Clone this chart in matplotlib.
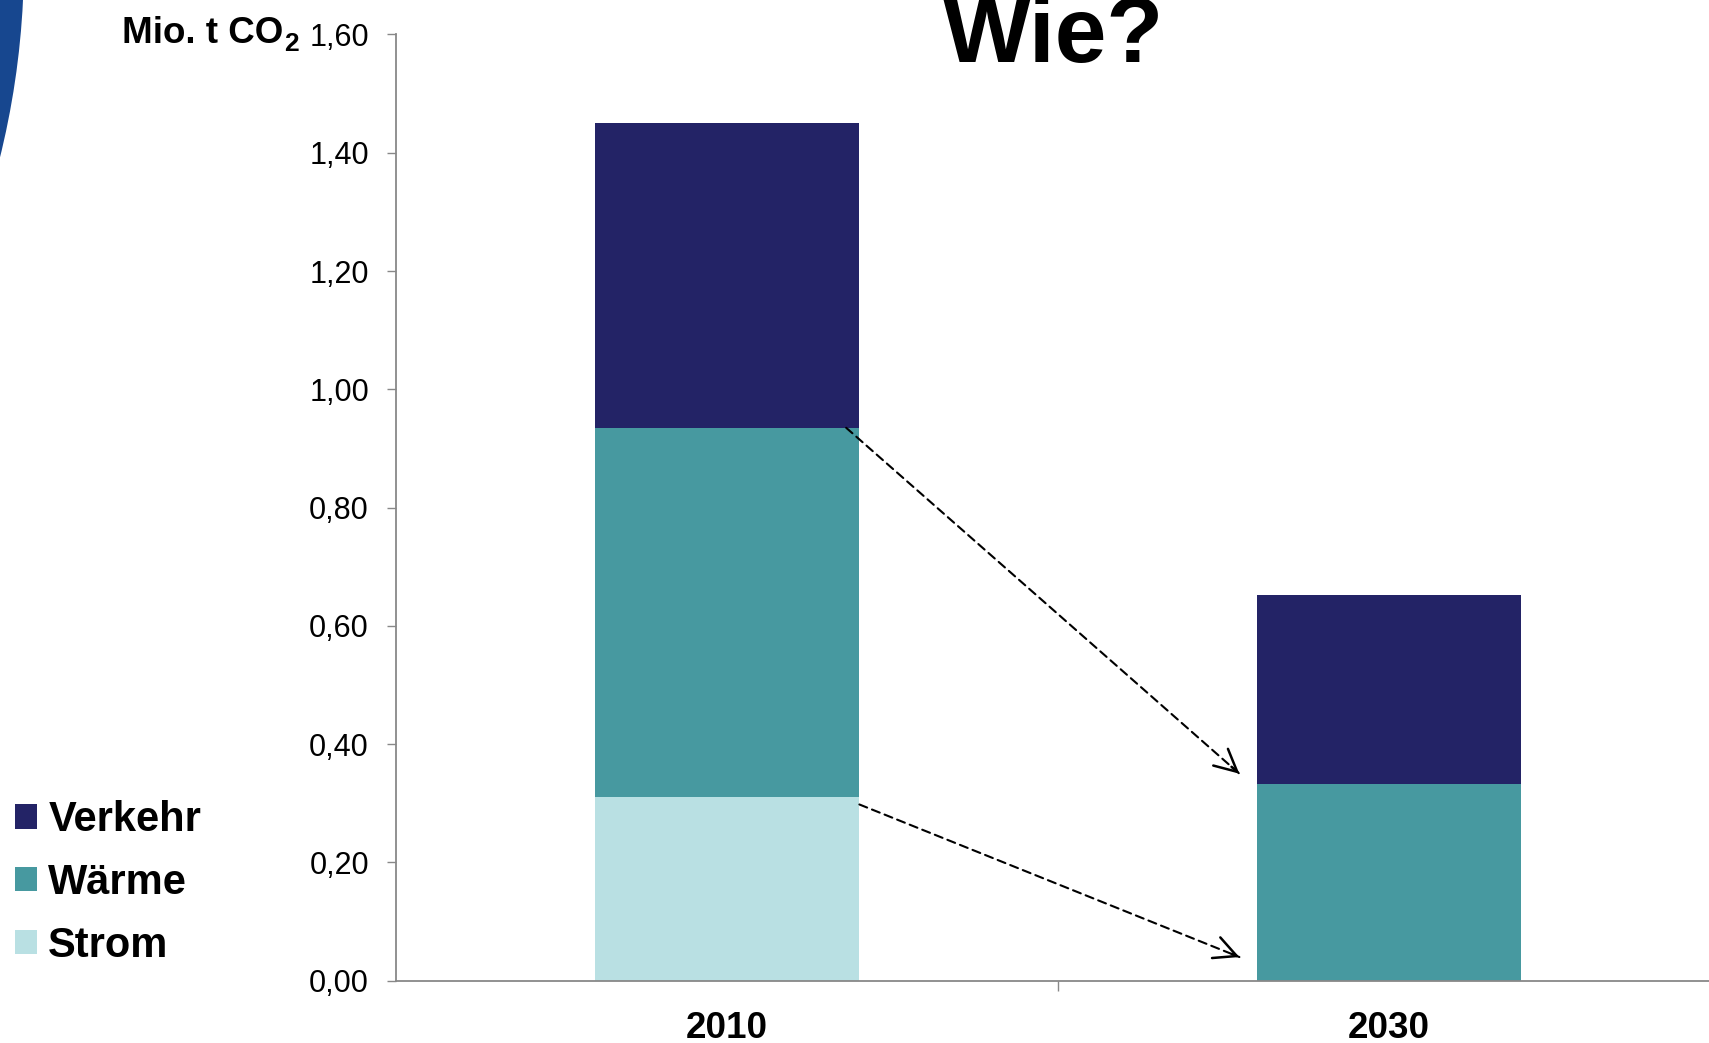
import numpy as np
from matplotlib import pyplot as plt
from matplotlib.patches import Circle

plt.rcParams['font.family'] = ['Liberation Sans', 'DejaVu Sans']

years = ["2010", "2030"]
strom = [0.31, 0.00]
waerme = [0.625, 0.333]
verkehr = [0.515, 0.32]

COLORS = {
    "Verkehr": "#232366",
    "Wärme": "#4799a0",
    "Strom": "#b9e0e3",
}

W, H = 1709, 1043
fig = plt.figure(figsize=(W / 100, H / 100), dpi=100)

# blue circle piece in the upper left corner
fig.patches.append(Circle((-800, H + 40), 824, transform=None, facecolor="#17478f",
                          edgecolor="none", zorder=0))

ax = fig.add_axes([396 / W, 62.3 / H, 1324 / W, 946.2 / H])

x = np.arange(len(years))
strom = np.array(strom)
waerme = np.array(waerme)
verkehr = np.array(verkehr)

b_strom = ax.bar(x, strom, 0.4, color=COLORS["Strom"], label="Strom")
b_waerme = ax.bar(x, waerme, 0.4, bottom=strom, color=COLORS["Wärme"], label="Wärme")
b_verkehr = ax.bar(x, verkehr, 0.4, bottom=strom + waerme, color=COLORS["Verkehr"], label="Verkehr")

ax.set_xlim(-0.5, 1.5)
ax.set_ylim(0, 1.6)
yt = np.arange(0, 1.61, 0.2)
ax.set_yticks(yt)
ax.set_yticklabels([("%.2f" % v).replace(".", ",") for v in yt])

ax.set_xticks([0.5])
ax.set_xticklabels([""])
ax.set_xticks(x, minor=True)
ax.set_xticklabels(years, minor=True, fontsize=26.5, fontweight="bold")
ax.tick_params(axis="x", which="major", direction="out", length=7, width=1, color="#888888")
ax.tick_params(axis="x", which="minor", length=0, pad=22)
ax.tick_params(axis="y", direction="out", length=6.5, width=1, color="#888888",
               labelsize=22, pad=13)

for s in ["top", "right"]:
    ax.spines[s].set_visible(False)
for s in ["left", "bottom"]:
    ax.spines[s].set_color("#888888")
    ax.spines[s].set_linewidth(1.3)


def dashed_arrow(start, end):
    # dashed shaft plus a solid open head at the end
    ax.annotate("", xy=end, xytext=start,
                arrowprops=dict(arrowstyle="-", linestyle=(0, (4, 2.5)), lw=1.5,
                                color="black", shrinkA=0, shrinkB=0))
    near = (start[0] + 0.98 * (end[0] - start[0]), start[1] + 0.98 * (end[1] - start[1]))
    ax.annotate("", xy=end, xytext=near,
                arrowprops=dict(arrowstyle="->", lw=1.8, color="black",
                                mutation_scale=40, shrinkA=0, shrinkB=0))


# dashed arrows from 2010 to 2030
dashed_arrow((x[0] + 0.18, strom[0] + waerme[0]), (x[1] - 0.226, strom[1] + waerme[1] + 0.017))
dashed_arrow((x[0] + 0.2, strom[0] - 0.012), (x[1] - 0.226, strom[1] + 0.04))

# unit label
fig.text(283 / W, 1 - 43 / H, "Mio. t CO", fontsize=26.5, fontweight="bold",
         ha="right", va="baseline")
fig.text(284 / W, 1 - 51 / H, "2", fontsize=19, fontweight="bold",
         ha="left", va="baseline")

# title
fig.text(1054 / W, 1 - 62 / H, "Wie?", fontsize=67, fontweight="bold",
         ha="center", va="baseline")

fig.legend(handles=[b_verkehr, b_waerme, b_strom], labels=["Verkehr", "Wärme", "Strom"],
           loc="upper left", bbox_to_anchor=(15 / W, 1 - 800 / H), frameon=False,
           prop={"size": 30, "weight": "bold"}, handlelength=0.53, handleheight=0.53,
           handletextpad=0.27, labelspacing=0.55, borderpad=0, borderaxespad=0)

fig.savefig("out.png", dpi=100)
